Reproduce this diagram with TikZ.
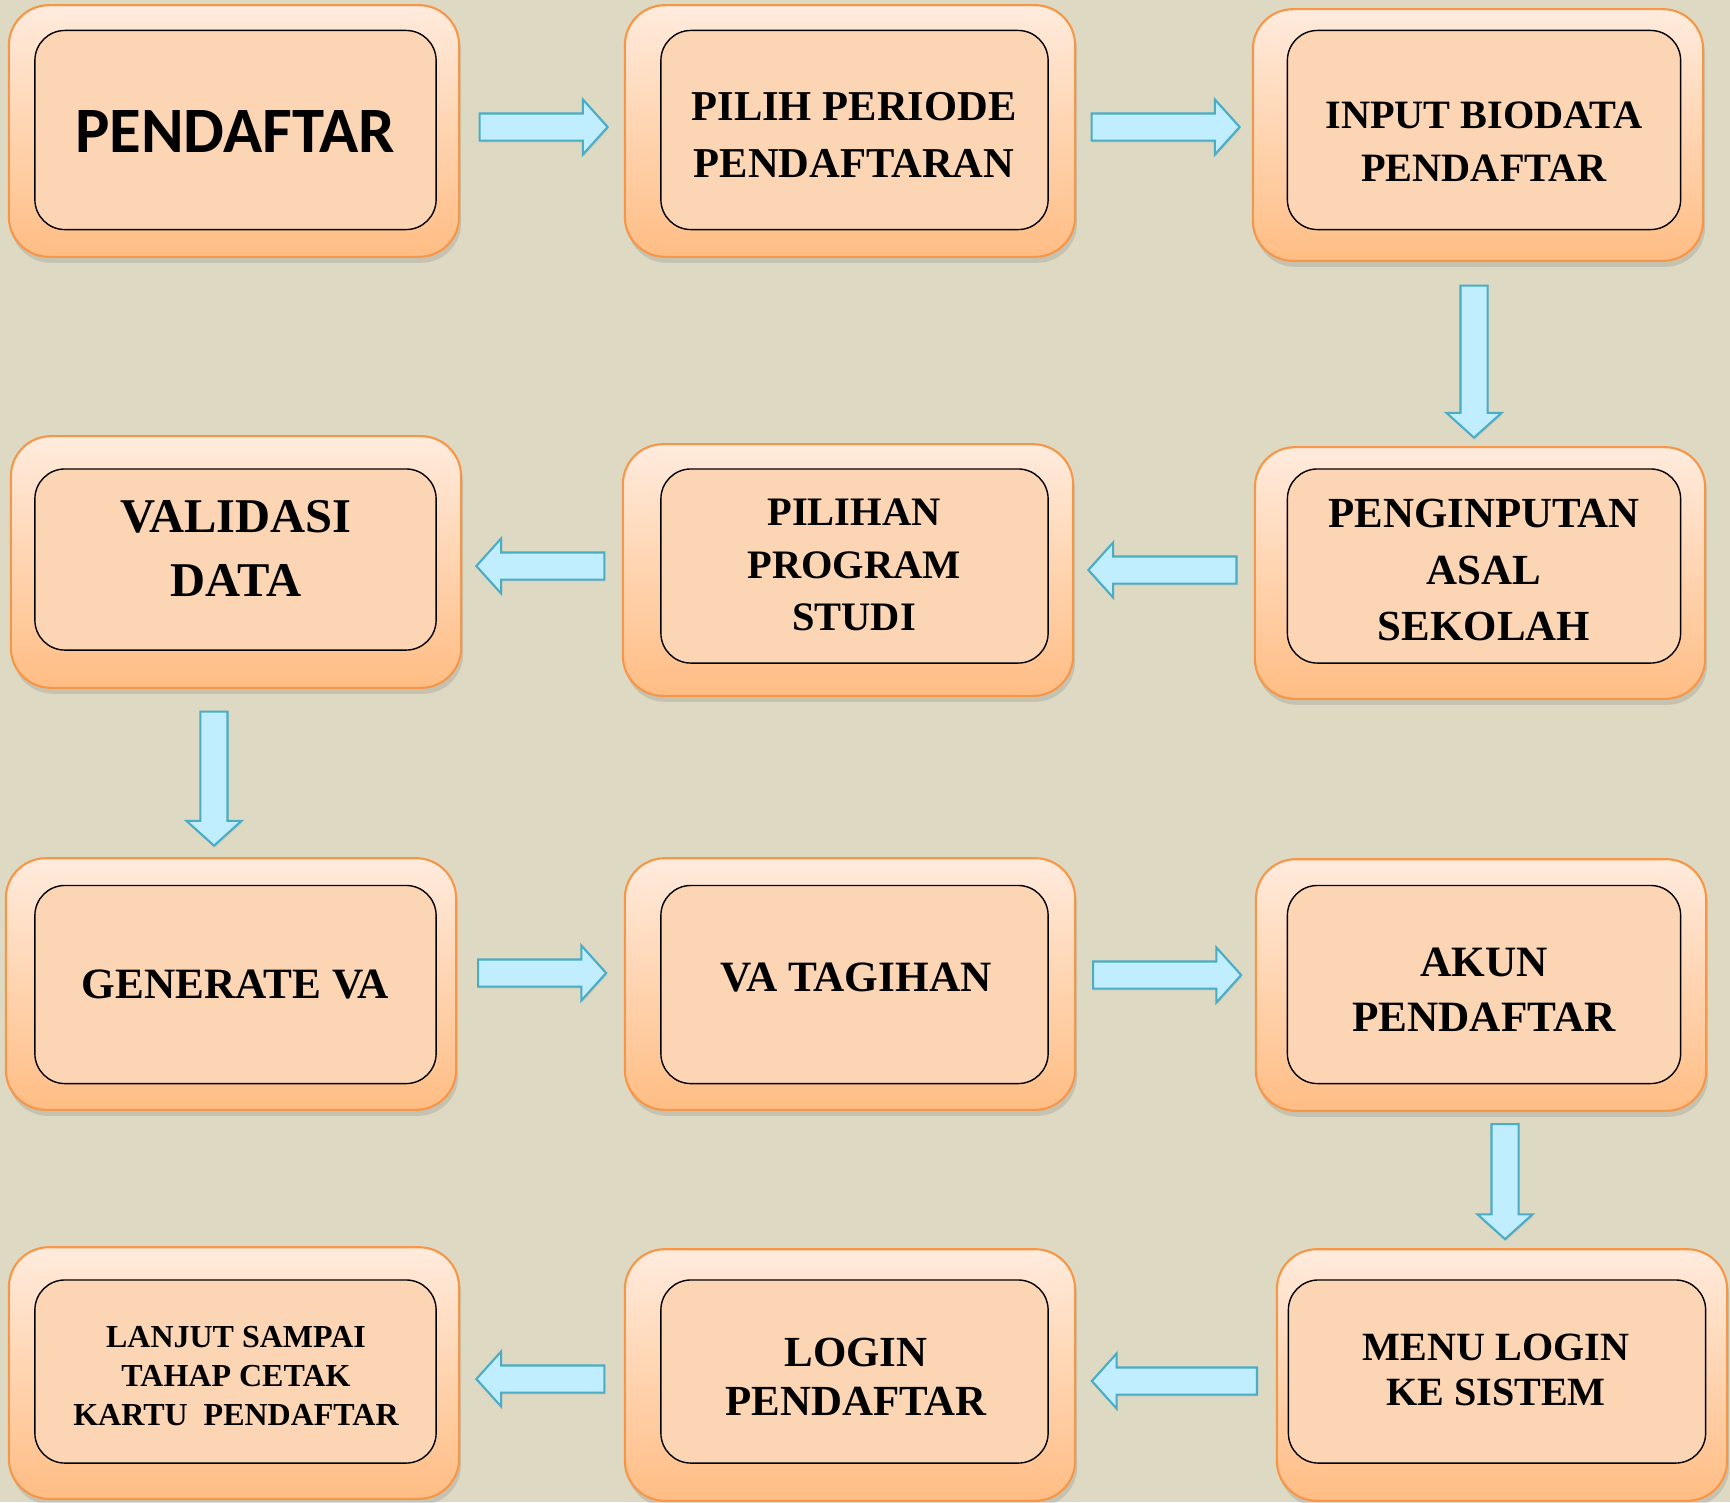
\documentclass[tikz,border=0pt]{standalone}
\usepackage{fontspec}
\setmainfont{Liberation Serif}
\newfontfamily\calibri{Carlito}
\usetikzlibrary{shapes.arrows,shadows,calc}
\definecolor{paper}{HTML}{DDD9C3}
\definecolor{boxline}{HTML}{F79646}
\definecolor{boxtop}{HTML}{FFEBDD}
\definecolor{boxbottom}{HTML}{FFBD84}
\definecolor{boxinner}{HTML}{FCD5B5}
\definecolor{arrowfill}{HTML}{C0EEFF}
\definecolor{arrowline}{HTML}{4BACC6}

\tikzset{
  outerbox/.style={rounded corners=0.4cm, draw=boxline, line width=0.6pt,
    top color=boxtop, bottom color=boxbottom, minimum width=4.5cm,
    minimum height=2.515cm, inner sep=0pt,
    drop shadow={shadow xshift=0.02cm, shadow yshift=-0.06cm, opacity=0.25}},
  innerbox/.style={rounded corners=0.3cm, draw=black, line width=0.4pt,
    fill=boxinner, inner sep=0pt},
  txt/.style={align=center, inner sep=0pt},
  flow/.style={single arrow, draw=arrowline, fill=arrowfill, line width=0.6pt,
    single arrow head extend=0.14cm, single arrow head indent=0pt,
    single arrow tip angle=96, inner xsep=0pt, inner ysep=0.125cm,
    drop shadow={shadow xshift=0.01cm, shadow yshift=-0.02cm, opacity=0.15}},
}

\begin{document}
\begin{tikzpicture}[x=0.01cm, y=-0.01cm]
    \path[use as bounding box, fill=paper] (0,0) rectangle (1730,1502);

    % row 1
    \node[outerbox] (b1) at (234,131) {};
    \node[innerbox, minimum width=4.01cm, minimum height=1.99cm] (i1) at (235.5,130) {};
    \node[txt, font=\calibri\bfseries\fontsize{18.4}{22}\selectfont] (t1) at (235,132) {PENDAFTAR};

    \node[outerbox] (b2) at (850,131) {};
    \node[innerbox, minimum width=3.87cm, minimum height=1.99cm] (i2) at (854.5,130) {};
    \node[txt, font=\bfseries\fontsize{12.1}{16}\selectfont] (t2) at (854,135) {PILIH PERIODE\\PENDAFTARAN};

    \node[outerbox] (b3) at (1478,135) {};
    \node[innerbox, minimum width=3.93cm, minimum height=1.99cm] (i3) at (1484,130) {};
    \node[txt, font=\bfseries\fontsize{11.45}{15}\selectfont] (t3) at (1484,142) {INPUT BIODATA\\PENDAFTAR};

    % row 2
    \node[outerbox] (b4) at (236,562) {};
    \node[innerbox, minimum width=4.01cm, minimum height=1.81cm] (i4) at (235.5,559.5) {};
    \node[txt, font=\bfseries\fontsize{13.8}{18.2}\selectfont] (t4) at (236,548) {VALIDASI\\DATA};

    \node[outerbox] (b5) at (848,570) {};
    \node[innerbox, minimum width=3.87cm, minimum height=1.94cm] (i5) at (854.5,566) {};
    \node[txt, font=\bfseries\fontsize{11.5}{15}\selectfont] (t5) at (854,565) {PILIHAN\\PROGRAM\\STUDI};

    \node[outerbox] (b6) at (1480,573) {};
    \node[innerbox, minimum width=3.93cm, minimum height=1.94cm] (i6) at (1484,566) {};
    \node[txt, font=\bfseries\fontsize{12.2}{16.2}\selectfont] (t6) at (1484,570) {PENGINPUTAN\\ASAL\\SEKOLAH};

    % row 3
    \node[outerbox] (b7) at (231,984) {};
    \node[innerbox, minimum width=4.01cm, minimum height=1.98cm] (i7) at (235.5,984.5) {};
    \node[txt, font=\bfseries\fontsize{12.3}{16}\selectfont] (t7) at (235.5,984) {GENERATE VA};

    \node[outerbox] (b8) at (850,984) {};
    \node[innerbox, minimum width=3.87cm, minimum height=1.98cm] (i8) at (854.5,984.5) {};
    \node[txt, font=\bfseries\fontsize{12.3}{16}\selectfont] (t8) at (856,977.5) {VA TAGIHAN};

    \node[outerbox] (b9) at (1481,985) {};
    \node[innerbox, minimum width=3.93cm, minimum height=1.98cm] (i9) at (1484,984.5) {};
    \node[txt, font=\bfseries\fontsize{12.3}{15.6}\selectfont] (t9) at (1484,990) {AKUN\\PENDAFTAR};

    % row 4
    \node[outerbox] (b10) at (234,1373) {};
    \node[innerbox, minimum width=4.01cm, minimum height=1.83cm] (i10) at (235.5,1371.5) {};
    \node[txt, font=\bfseries\fontsize{9.1}{11}\selectfont] (t10) at (236,1376) {LANJUT SAMPAI\\TAHAP CETAK\\KARTU\ \ PENDAFTAR};

    \node[outerbox] (b11) at (850,1375) {};
    \node[innerbox, minimum width=3.87cm, minimum height=1.83cm] (i11) at (854.5,1371.5) {};
    \node[txt, font=\bfseries\fontsize{12.2}{13.8}\selectfont] (t11) at (856,1377) {LOGIN\\PENDAFTAR};

    \node[outerbox] (b12) at (1502,1375) {};
    \node[innerbox, minimum width=4.17cm, minimum height=1.83cm] (i12) at (1497,1371.5) {};
    \node[txt, font=\bfseries\fontsize{11.4}{12.8}\selectfont] (t12) at (1496,1370) {MENU LOGIN\\KE SISTEM};

    % block arrows between the steps
    \path (b1) -- (b2) node[flow, midway, minimum height=1.28cm, xshift=-0.045cm, yshift=0.04cm] (a1) {};
    \path (b2) -- (b3) node[flow, midway, minimum height=1.48cm, xshift=-0.045cm, yshift=0.06cm] (a2) {};
    \path (b3.south) -- (b6.north) node[flow, midway, minimum height=1.52cm, xshift=-0.05cm, yshift=-0.015cm, rotate=-90] (a3) {};
    \path (b6) -- (b5) node[flow, midway, minimum height=1.48cm, xshift=0.045cm, yshift=0.015cm, rotate=180] (a4) {};
    \path (b5) -- (b4) node[flow, midway, minimum height=1.28cm, xshift=0.045cm, rotate=180] (a5) {};
    \path (b4.south) -- (b7.north) node[flow, midway, minimum height=1.34cm, xshift=-0.195cm, yshift=0.005cm, rotate=-90] (a6) {};
    \path (b7) -- (b8) node[flow, midway, minimum height=1.28cm, xshift=-0.045cm, yshift=0.11cm] (a7) {};
    \path (b8) -- (b9) node[flow, midway, minimum height=1.48cm, xshift=-0.045cm, yshift=0.095cm] (a8) {};
    \path (b9.south) -- (b12.north) node[flow, midway, minimum height=1.15cm, xshift=0.135cm, yshift=0.045cm, rotate=-90] (a9) {};
    \path (b12) -- (b11) node[flow, midway, minimum height=1.65cm, xshift=0.045cm, yshift=-0.06cm, rotate=180] (a10) {};
    \path (b11) -- (b10) node[flow, midway, minimum height=1.28cm, xshift=0.045cm, yshift=-0.05cm, rotate=180] (a11) {};
\end{tikzpicture}
\end{document}
